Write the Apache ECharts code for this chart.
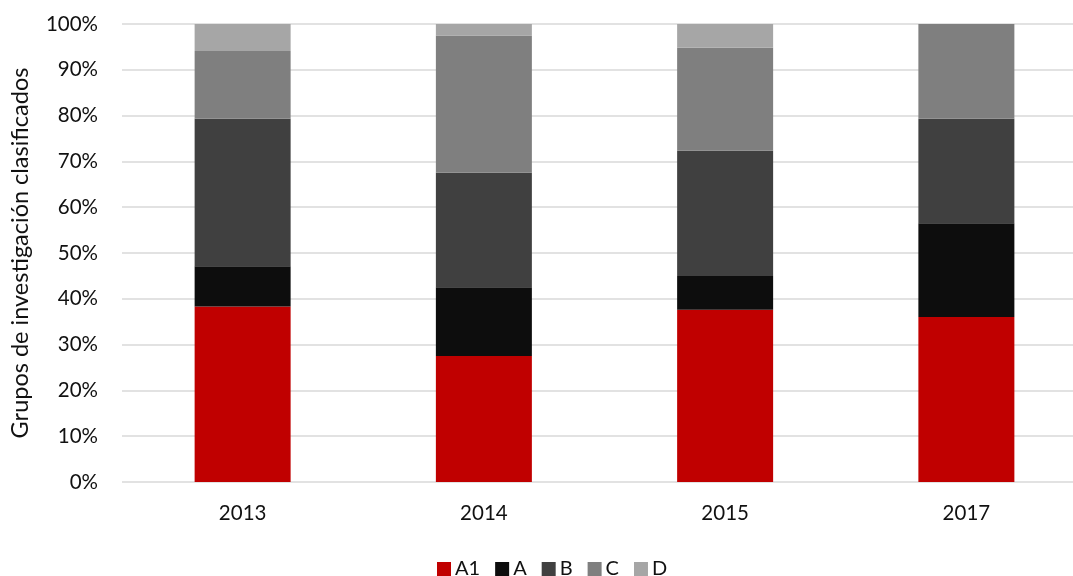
<!DOCTYPE html>
<html>
<head>
<meta charset="utf-8">
<script src="https://cdn.jsdelivr.net/npm/echarts@6/dist/echarts.min.js"></script>
<style>
  html, body { margin: 0; padding: 0; background: #fff; }
  #chart { width: 1073px; height: 576px; }
</style>
</head>
<body>
<div id="chart"></div>
<script>
// years on the x axis
const years = ['2013', '2014', '2015', '2017'];

// share of groups per category (percent)
const a1 = [38.3, 27.5, 37.6, 36.0];
const a = [8.8, 15.0, 7.4, 20.5];
const b = [32.2, 25.0, 27.3, 22.8];
const c = [14.8, 30.0, 22.5, 20.7];
const d = [5.9, 2.5, 5.2, 0];

const seriesNames = ['A1', 'A', 'B', 'C', 'D'];
const seriesColors = ['#c00000', '#0d0d0d', '#404040', '#7f7f7f', '#a6a6a6'];
const seriesData = [a1, a, b, c, d];

const chart = echarts.init(document.getElementById('chart'));
const font = 'Lato, "Open Sans", sans-serif';

const option = {
  animation: false,
  textStyle: { fontFamily: font },
  grid: {
    left: 122,
    top: 24,
    width: 965,
    height: 458,
    outerBoundsMode: 'none'
  },
  legend: {
    top: 554,
    left: 432,
    itemWidth: 14,
    itemHeight: 14,
    itemGap: 15,
    icon: 'rect',
    textStyle: { fontSize: 20, color: '#111', fontFamily: font, padding: [0, 0, 0, -1] },
    data: seriesNames
  },
  xAxis: {
    type: 'category',
    data: years,
    axisLine: { show: false },
    axisTick: { show: false },
    axisLabel: { fontSize: 20.5, color: '#111', margin: 21 }
  },
  yAxis: {
    type: 'value',
    min: 0,
    max: 100,
    interval: 10,
    name: 'Grupos de investigación clasificados',
    nameLocation: 'middle',
    nameGap: 90,
    nameTextStyle: { fontSize: 23.5, color: '#111' },
    axisLabel: { fontSize: 20.5, color: '#111', margin: 24, formatter: '{value}%' },
    splitLine: { lineStyle: { color: '#d9d9d9', width: 1.5 } }
  },
  series: seriesNames.map((name, i) => ({
    name: name,
    type: 'bar',
    stack: 'total',
    barWidth: 96,
    data: seriesData[i],
    itemStyle: { color: seriesColors[i] }
  }))
};

chart.setOption(option);
</script>
</body>
</html>
